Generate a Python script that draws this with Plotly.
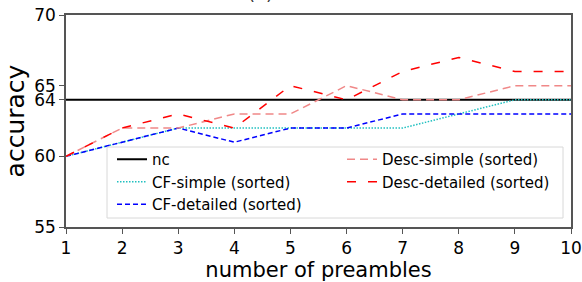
import plotly.graph_objects as go

x = list(range(1, 11))
nc = [64] * 10
cf_simple = [60, 61, 62, 62, 62, 62, 62, 63, 64, 64]
cf_detailed = [60, 61, 62, 61, 62, 62, 63, 63, 63, 63]
desc_simple = [60, 62, 62, 63, 63, 65, 64, 64, 65, 65]
desc_detailed = [60, 62, 63, 62, 65, 64, 66, 67, 66, 66]
y_ticks = [55, 60, 64, 65, 70]

fig = go.Figure()
fig.add_trace(go.Scatter(x=x, y=nc, mode="lines", name="nc",
                         line=dict(color="black", width=2), legend="legend", legendgroup="a"))
fig.add_trace(go.Scatter(x=x, y=cf_simple, mode="lines", name="CF-simple (sorted)",
                         line=dict(color="#20c0c0", width=1.5, dash="1.5px,1.5px"), legend="legend", legendgroup="b"))
fig.add_trace(go.Scatter(x=x, y=cf_detailed, mode="lines", name="CF-detailed (sorted)",
                         line=dict(color="blue", width=1.5, dash="5px,3px"), legend="legend", legendgroup="c"))
fig.add_trace(go.Scatter(x=x, y=desc_simple, mode="lines", name="Desc-simple (sorted)",
                         line=dict(color="#f08888", width=1.5, dash="8px,5px"), legend="legend2", legendgroup="d"))
fig.add_trace(go.Scatter(x=x, y=desc_detailed, mode="lines", name="Desc-detailed (sorted)",
                         line=dict(color="red", width=1.5, dash="9px,12px"), legend="legend2", legendgroup="e"))

axis_common = dict(showline=True, linecolor="#555555", linewidth=1.5, mirror=True,
                   ticks="outside", ticklen=5, tickwidth=1.2, tickcolor="#555555",
                   showgrid=False, zeroline=False, automargin=False,
                   tickfont=dict(family="DejaVu Sans", size=17, color="black"))

fig.update_layout(
    width=582, height=282,
    margin=dict(l=66, r=11, t=15, b=55, autoexpand=False),
    plot_bgcolor="white", paper_bgcolor="white",
    showlegend=True,
    xaxis=dict(range=[1, 10], tickvals=x, title=dict(text="number of preambles",
               font=dict(family="DejaVu Sans", size=21, color="black"), standoff=2), **axis_common),
    yaxis=dict(range=[55, 70], tickvals=y_ticks, title=dict(text="accuracy",
               font=dict(family="DejaVu Sans", size=25, color="black"), standoff=2), **axis_common),
    legend=dict(x=(112 - 66) / 505, y=(227 - 143) / 212, xanchor="left", yanchor="top",
                bgcolor="rgba(0,0,0,0)", traceorder="grouped", tracegroupgap=0,
                font=dict(family="DejaVu Sans", size=15, color="black")),
    legend2=dict(x=(342 - 66) / 505, y=(227 - 143) / 212, xanchor="left", yanchor="top",
                 bgcolor="rgba(0,0,0,0)", traceorder="grouped", tracegroupgap=0,
                 font=dict(family="DejaVu Sans", size=15, color="black")),
    shapes=[dict(type="rect", xref="paper", yref="paper",
                 x0=(107 - 66) / 505, x1=(563 - 66) / 505,
                 y0=(227 - 218) / 212, y1=(227 - 147) / 212,
                 line=dict(color="#d8d8d8", width=1), fillcolor="rgba(255,255,255,0.8)", layer="above")],
    annotations=[dict(text="(a)", xref="paper", yref="paper", x=(260 - 66) / 505, y=1,
                      yshift=9, yanchor="bottom", showarrow=False,
                      font=dict(family="DejaVu Sans", size=18, color="#333333"))],
)

fig.write_html("out.html", config={"displayModeBar": False},
               post_script="document.body.style.margin='0';document.body.style.overflow='hidden';")
